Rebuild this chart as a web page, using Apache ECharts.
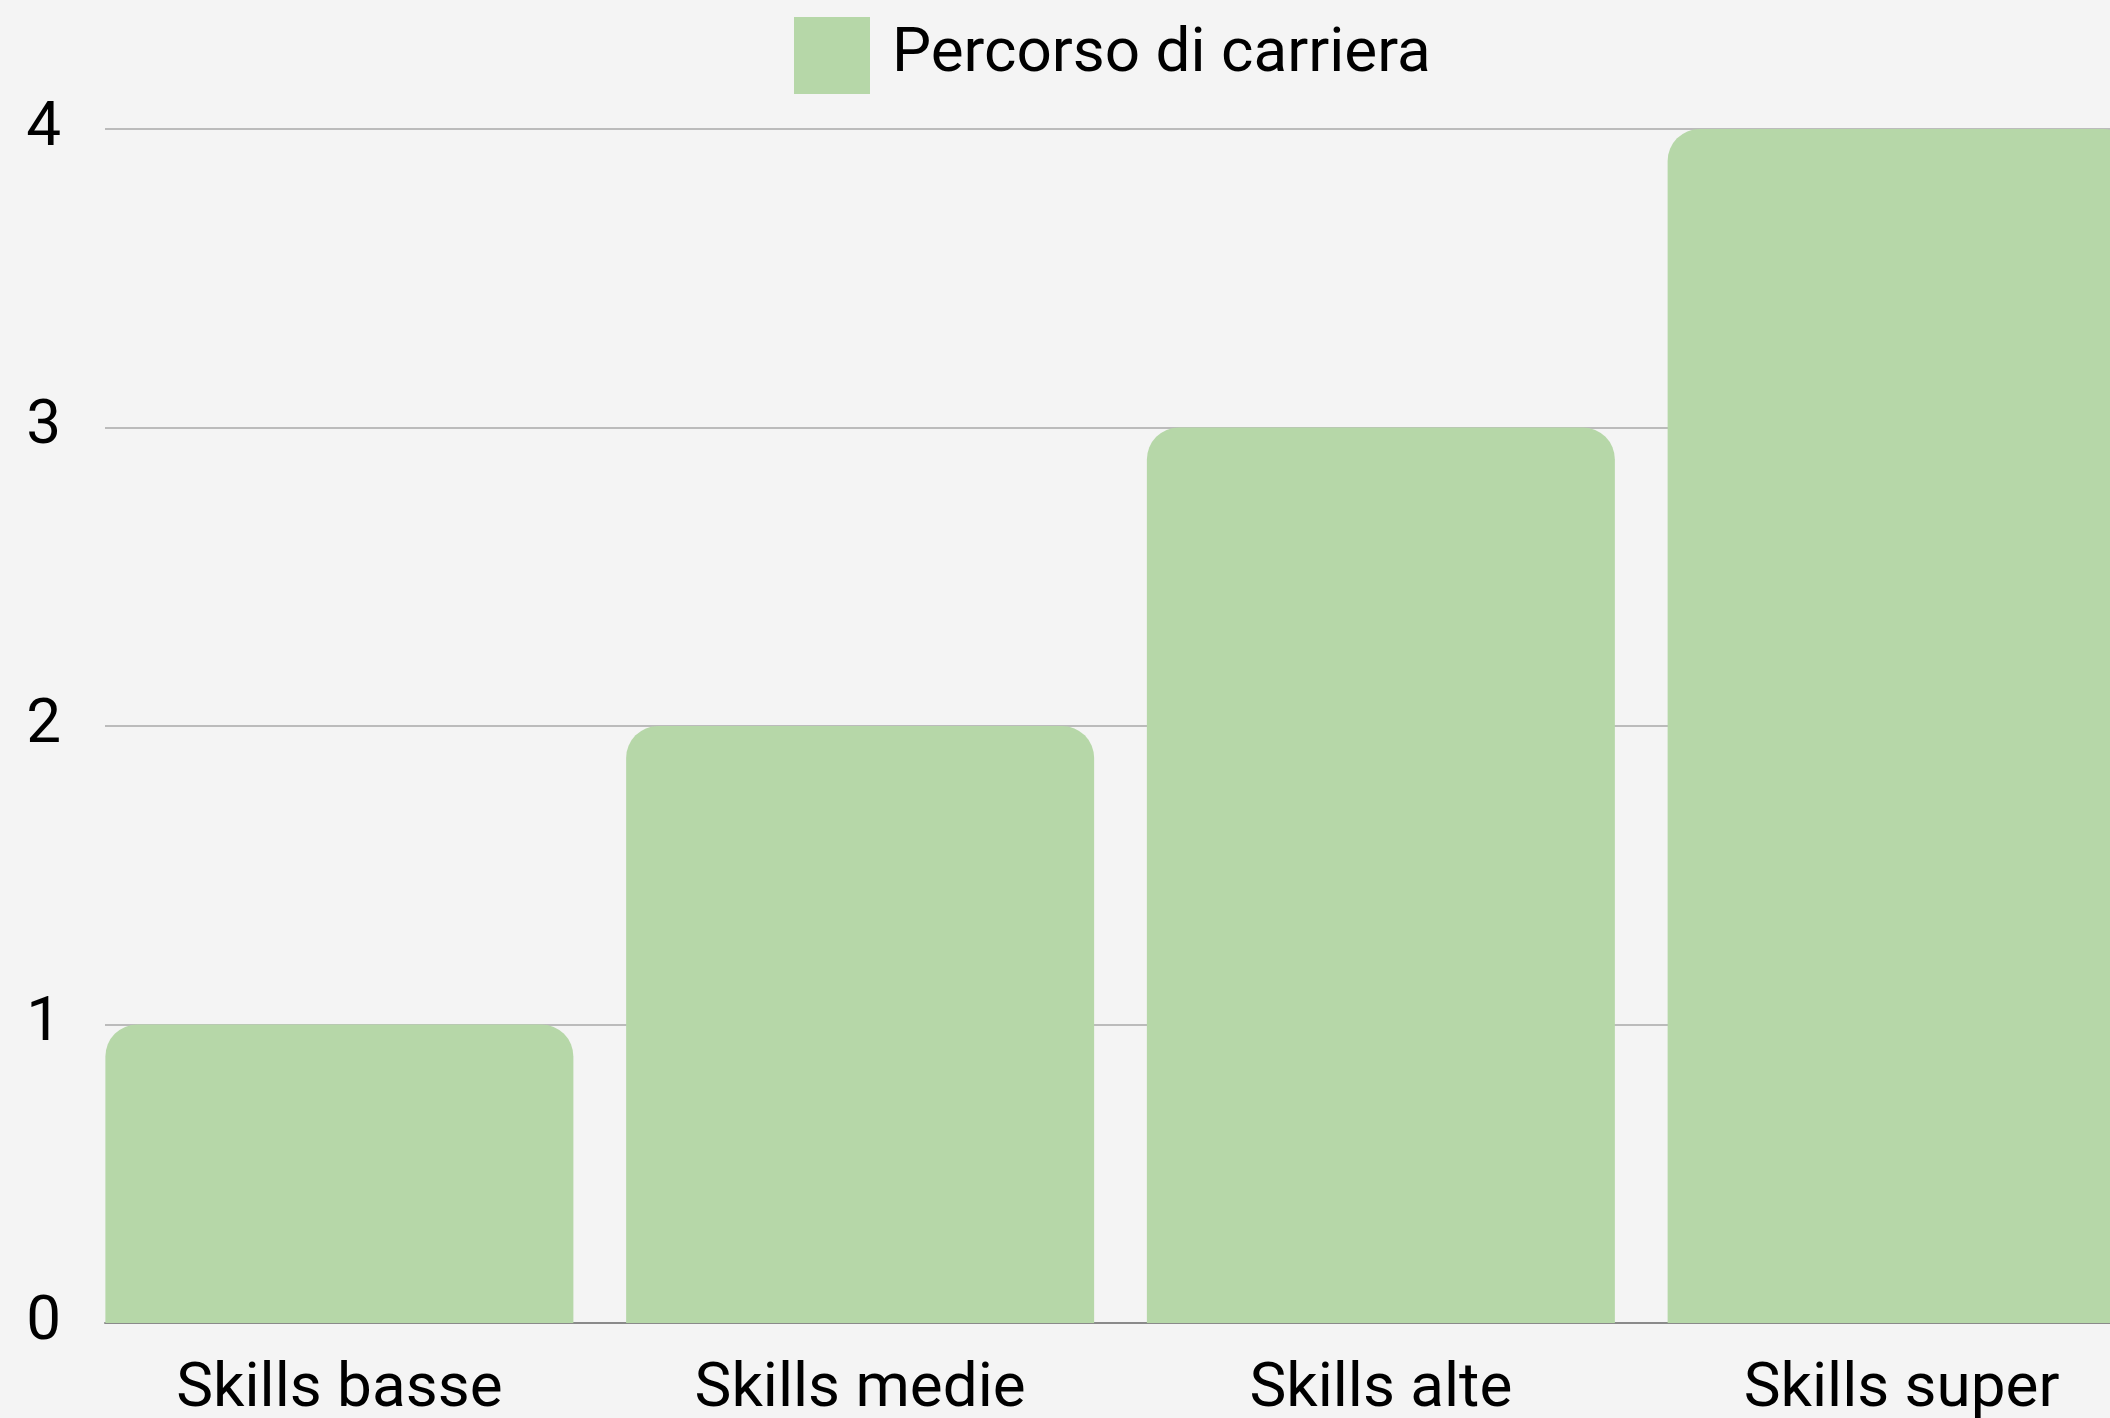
<!DOCTYPE html>
<html lang="it">
<head>
    <meta charset="UTF-8">
    <title>Percorso di carriera</title>
    <style>
        html, body { margin: 0; padding: 0; background: #f4f4f4; }
    </style>
</head>
<body>
<div id="main" style="width:2110px;height:1418px;"></div>

<script src="https://cdn.jsdelivr.net/npm/echarts@6/dist/echarts.min.js"></script>
<script>
    // dati del grafico
    var categories = ['Skills basse', 'Skills medie', 'Skills alte', 'Skills super'];
    var carriera = [1, 2, 3, 4];
    var yTicks = [0, 1, 2, 3, 4];
    var seriesName = 'Percorso di carriera';

    (function () {
        var chart = echarts.init(document.querySelector('#main'));
        var font = 'Roboto';

        var option = {
            backgroundColor: '#f4f4f4',
            animation: false,
            legend: {
                data: [seriesName],
                left: 789,
                top: 12,
                itemWidth: 76,
                itemHeight: 77,
                icon: 'rect',
                textStyle: {
                    color: '#000',
                    fontSize: 62,
                    fontFamily: font,
                    padding: [8, 0, 0, 17]
                }
            },
            grid: [{
                // griglia delle barre: l'ultima barra esce dal bordo destro
                left: 79,
                top: 129,
                width: 2083,
                height: 1194,
                outerBoundsMode: 'none'
            }, {
                // griglia delle linee orizzontali e delle etichette y
                left: 105,
                right: 0,
                top: 129,
                height: 1194,
                outerBoundsMode: 'none'
            }],
            xAxis: [{
                type: 'category',
                gridIndex: 0,
                data: categories,
                axisLine: { show: false },
                axisTick: { show: false },
                axisLabel: {
                    color: '#000',
                    fontSize: 62,
                    fontFamily: font,
                    margin: 36
                }
            }, {
                type: 'value',
                gridIndex: 1,
                min: 0,
                max: 1,
                axisLine: {
                    show: true,
                    lineStyle: { color: '#8a8a8a', width: 2 }
                },
                axisTick: { show: false },
                axisLabel: { show: false },
                splitLine: { show: false }
            }],
            yAxis: [{
                type: 'value',
                gridIndex: 0,
                min: yTicks[0],
                max: yTicks[yTicks.length - 1],
                interval: 1,
                show: false
            }, {
                type: 'value',
                gridIndex: 1,
                min: yTicks[0],
                max: yTicks[yTicks.length - 1],
                interval: 1,
                axisLine: { show: false },
                axisTick: { show: false },
                axisLabel: {
                    color: '#000',
                    fontSize: 62,
                    fontFamily: font,
                    margin: 44,
                    padding: [10, 0, 0, 0]
                },
                splitLine: {
                    lineStyle: { color: '#bbbbbb', width: 2 }
                }
            }],
            series: [{
                name: seriesName,
                type: 'bar',
                xAxisIndex: 0,
                yAxisIndex: 0,
                barWidth: 468,
                data: carriera,
                itemStyle: {
                    color: '#b6d7a8',
                    borderRadius: [32, 32, 0, 0]
                }
            }]
        };

        chart.setOption(option);
    })();
</script>
</body>
</html>
